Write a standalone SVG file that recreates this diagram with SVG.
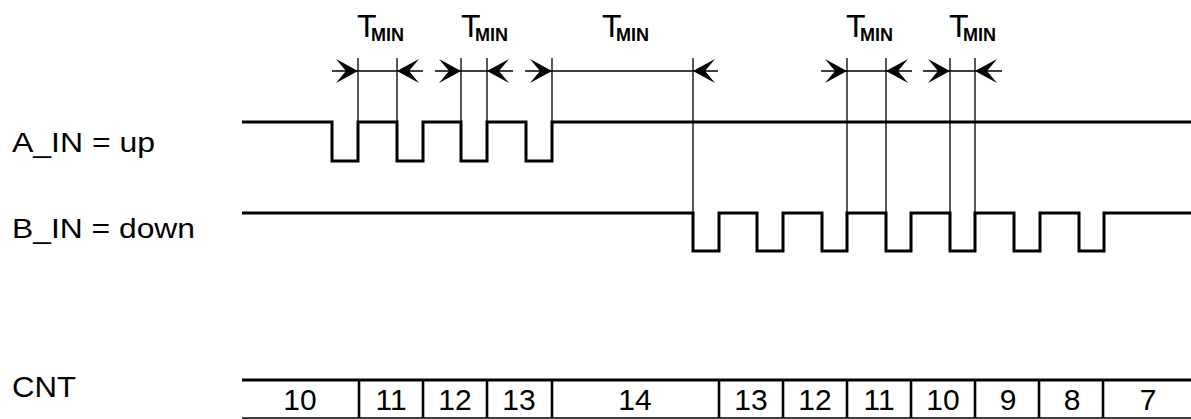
<svg xmlns="http://www.w3.org/2000/svg" width="1191" height="419" viewBox="0 0 1191 419">
<style>
text{font-family:"Liberation Sans",Arial,sans-serif;fill:#000}
.lbl{font-size:28px}
.cnt{font-size:30px;text-anchor:middle}
.t{font-size:32px}
.sub{font-size:18px;font-weight:bold}
.sig{fill:none;stroke:#000;stroke-width:3;stroke-linejoin:miter}
.thin{stroke:#000;stroke-width:1.3;fill:none}
.div{stroke:#000;stroke-width:2.6}
</style>
<defs>
<path id="ar" d="M0,0 L-22,-12 L-12,0 L-22,12 Z" fill="#000"/>
</defs>
<rect width="1191" height="419" fill="#fff"/>
<g id="labels">
<text class="lbl" x="12" y="152" textLength="143" lengthAdjust="spacingAndGlyphs">A_IN = up</text>
<text class="lbl" x="12" y="238" textLength="183" lengthAdjust="spacingAndGlyphs">B_IN = down</text>
<text class="cnt" x="44" y="397" textLength="64" lengthAdjust="spacingAndGlyphs">CNT</text>
</g>
<g id="signal-a">
<path class="sig" d="M242,122 H332 V161 H358 V122 H397 V161 H423 V122 H461 V161 H487 V122 H526 V161 H552 V122 H1191"/>
</g>
<g id="signal-b">
<path class="sig" d="M242,213 H693 V251 H719 V213 H757 V251 H783 V213 H822 V251 H847 V213 H886 V251 H911 V213 H950 V251 H975 V213 H1014 V251 H1040 V213 H1079 V251 H1104 V213 H1191"/>
</g>
<g id="connectors">
<path class="thin" d="M358,58 V122 M397,58 V122 M461,58 V122 M487,58 V122 M552,58 V122 M693,58 V213 M847,58 V213 M886,58 V213 M950,58 V213 M975,58 V213"/>
<path class="thin" d="M332,71 H423 M435,71 H513 M525,71 H718 M821,71 H912 M923,71 H1002"/>
<use href="#ar" x="358" y="71"/>
<use href="#ar" transform="translate(397,71) scale(-1,1)"/>
<use href="#ar" x="461" y="71"/>
<use href="#ar" transform="translate(487,71) scale(-1,1)"/>
<use href="#ar" x="552" y="71"/>
<use href="#ar" transform="translate(693,71) scale(-1,1)"/>
<use href="#ar" x="847" y="71"/>
<use href="#ar" transform="translate(886,71) scale(-1,1)"/>
<use href="#ar" x="950" y="71"/>
<use href="#ar" transform="translate(975,71) scale(-1,1)"/>
</g>
<g id="tmin-labels">
<text x="357" y="37" class="t">T</text><text x="371" y="41" class="sub" textLength="33" lengthAdjust="spacingAndGlyphs">MIN</text>
<text x="461" y="37" class="t">T</text><text x="475" y="41" class="sub" textLength="33" lengthAdjust="spacingAndGlyphs">MIN</text>
<text x="602" y="37" class="t">T</text><text x="616" y="41" class="sub" textLength="33" lengthAdjust="spacingAndGlyphs">MIN</text>
<text x="846" y="37" class="t">T</text><text x="860" y="41" class="sub" textLength="33" lengthAdjust="spacingAndGlyphs">MIN</text>
<text x="949" y="37" class="t">T</text><text x="963" y="41" class="sub" textLength="33" lengthAdjust="spacingAndGlyphs">MIN</text>
</g>
<g id="cnt-bar">
<line x1="242" y1="380" x2="1191" y2="380" stroke="#000" stroke-width="3"/>
<line x1="242" y1="418" x2="1191" y2="418" stroke="#000" stroke-width="1.5"/>
<path class="div" d="M359,380 V418 M423,380 V418 M487,380 V418 M552,380 V418 M719,380 V418 M783,380 V418 M847,380 V418 M911,380 V418 M975,380 V418 M1039,380 V418 M1103,380 V418"/>
<text class="cnt" x="300" y="410">10</text>
<text class="cnt" x="391" y="410">11</text>
<text class="cnt" x="455" y="410">12</text>
<text class="cnt" x="519" y="410">13</text>
<text class="cnt" x="635" y="410">14</text>
<text class="cnt" x="751" y="410">13</text>
<text class="cnt" x="815" y="410">12</text>
<text class="cnt" x="879" y="410">11</text>
<text class="cnt" x="943" y="410">10</text>
<text class="cnt" x="1008" y="410">9</text>
<text class="cnt" x="1072" y="410">8</text>
<text class="cnt" x="1148" y="410">7</text>
</g>
</svg>
